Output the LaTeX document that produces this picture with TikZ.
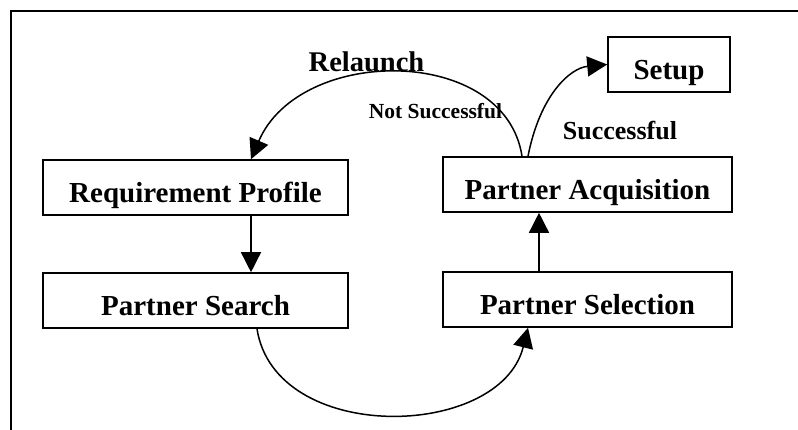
\documentclass[tikz,border=0pt]{standalone}
\usepackage{fontspec}
\setmainfont{Liberation Serif}
\usetikzlibrary{arrows.meta}
\begin{document}
\begin{tikzpicture}[x=1pt,y=-1pt,
  box/.style={draw,line width=1.6pt,inner sep=0pt,text height=42pt,text depth=13pt,
    minimum height=55pt,anchor=base,font=\fontsize{29}{34}\selectfont\bfseries},
  lbl/.style={inner sep=0pt,anchor=base,font=\bfseries},
  conn/.style={line width=1.5pt,-{Triangle[length=20pt,width=20pt]}}]
\useasboundingbox (0,0) rectangle (798,429);
\draw[line width=2pt] (11,432) -- (11,11) -- (800,11);
\node[box,minimum width=305pt] (req) at (195.5,202) {Requirement Profile};
\node[box,minimum width=305pt] (search) at (195.5,315) {Partner Search};
\node[box,minimum width=289pt] (sel) at (587.5,314) {Partner Selection};
\node[box,minimum width=289pt] (acq) at (587.5,199) {Partner Acquisition};
\node[box,minimum width=122pt] (setup) at (669,79) {Setup};
\node[lbl,font=\fontsize{28.5}{32}\selectfont\bfseries] (relaunch) at (366.5,71) {Relaunch};
\node[lbl,font=\fontsize{21.5}{25}\selectfont\bfseries] (notsucc) at (435.5,118) {Not Successful};
\node[lbl,font=\fontsize{26}{30}\selectfont\bfseries] (succ) at (620,139) {Successful};
\draw[conn] ([xshift=55.5pt]req.south) -- ([xshift=55.5pt]search.north);
\draw[conn] ([xshift=-48.5pt]sel.north) -- ([xshift=-48.5pt]acq.south);
\draw[conn] ([xshift=61.5pt]search.south) .. controls (275,445) and (500,440) .. ([xshift=-59.5pt]sel.south);
\draw[conn] ([xshift=-59.5pt]acq.north) .. controls (540,95) and (570,68) .. (setup.west);
\draw[conn] ([xshift=-65.5pt]acq.north) .. controls (505,45) and (300,45) .. ([xshift=55.5pt]req.north);
\end{tikzpicture}
\end{document}
